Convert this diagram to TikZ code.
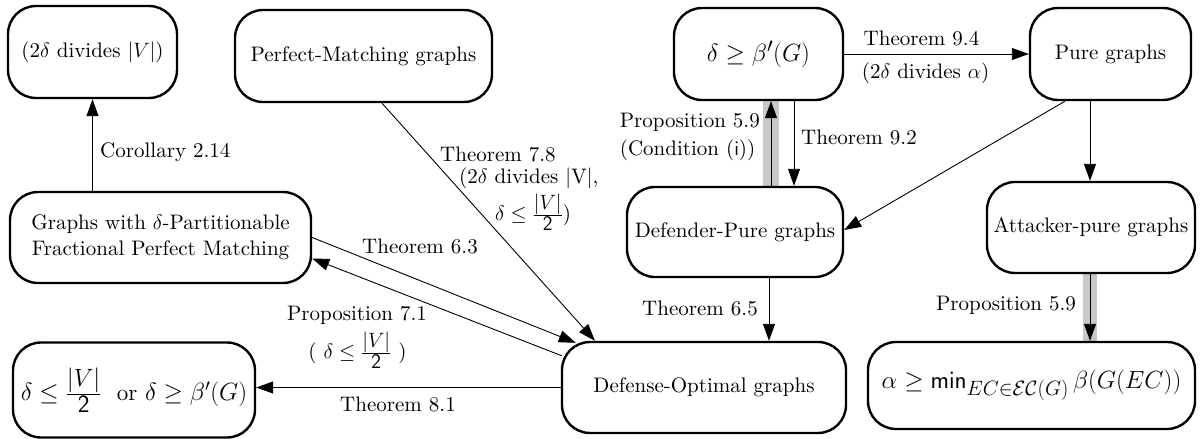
\documentclass[tikz,border=0pt]{standalone}
\usepackage{amsmath}
\usepackage[no-math]{fontspec}
\setmainfont{lmroman10-regular}[Extension=.otf, ItalicFont=lmroman10-italic, BoldFont=lmroman10-bold]
\usetikzlibrary{arrows.meta,backgrounds,calc}
\definecolor{band}{RGB}{200,200,200}
\newcommand{\hfr}[2]{\frac{\textstyle #1}{\textstyle #2}}
\begin{document}
\begin{tikzpicture}[x=1pt,y=-1pt,
  font=\fontsize{21pt}{25.5pt}\selectfont,
  box/.style={draw, line width=2.4pt, rounded corners=28pt, inner sep=0pt, align=center},
  arr/.style={-{Triangle[length=17pt,width=12pt]}, line width=0.9pt},
  lbl/.style={inner sep=0pt},
  bandline/.style={line width=16pt, draw=band},
  mathlbl/.style={inner sep=0pt, font=\fontsize{21pt}{25pt}\selectfont}]
\useasboundingbox (0,0) rectangle (1202,439);

% boxes
\node[box, minimum width=169pt, minimum height=92pt] (A) at (92.5,52) {(2$\delta$ divides $|V|$)};
\node[box, minimum width=257pt, minimum height=92pt] (B) at (363.5,56) {Perfect-Matching graphs};
\node[box, minimum width=169pt, minimum height=92pt, font=\fontsize{30pt}{34pt}\selectfont] (C) at (758.5,54) {$\delta \geq \beta'(G)$};
\node[box, minimum width=161pt, minimum height=92pt] (D) at (1110.5,54) {Pure graphs};
\node[box, minimum width=301pt, minimum height=91pt] (E) at (160.5,237.5) {Graphs with $\delta$-Partitionable\\Fractional Perfect Matching};
\node[box, minimum width=216pt, minimum height=90pt] (F) at (735,232) {Defender-Pure graphs};
\node[box, minimum width=208pt, minimum height=91pt] (G) at (1091,227.5) {Attacker-pure graphs};
\node[box, minimum width=242pt, minimum height=95pt, font=\fontsize{23pt}{27pt}\selectfont] (H) at (134,390) {$\delta \le \hfr{|V|}{\mathsf{2}}$\ \ or $\delta \ge \beta'(G)$};
\node[box, minimum width=284pt, minimum height=91pt] (I) at (704,387.5) {Defense-Optimal graphs};
\node[box, minimum width=327pt, minimum height=87pt, font=\fontsize{28pt}{32pt}\selectfont] (J) at (1031.5,385.5) {$\alpha \ge \mathsf{min}_{EC\in\mathcal{EC}(G)}\,\beta(G(EC))$};

% gray bands
\begin{pgfonlayer}{background}
  \draw[bandline] ([xshift=12pt]C.south) -- ([xshift=35.5pt]F.north);
  \draw[bandline, line width=14pt] ([xshift=-1pt]G.south) -- ([xshift=58.5pt]J.north);
\end{pgfonlayer}

% connectors
\draw[arr] (E.north -| A.south) -- (A.south);
\node[lbl, anchor=west] (lcor) at (100,152) {Corollary 2.14};

\draw[arr] ([xshift=18.5pt]B.south) -- ([xshift=-109pt]I.north);
\node[lbl, anchor=west] (l78a) at (440,154) {Theorem 7.8};
\node[lbl, anchor=west] (l78b) at (459,178) {(2$\delta$ divides $|$V$|$,};
\node[mathlbl, anchor=west] (l78c) at (495,212) {$\delta \le \hfr{|V|}{\mathsf{2}}$)};

\draw[arr] (E.east) -- ([shift={(15pt,-2pt)}]I.north west);
\node[lbl] (l63) at (420,246) {Theorem 6.3};

\draw[arr] ([shift={(1pt,-15pt)}]I.north west) -- ([yshift=-21pt]E.east);
\node[lbl] (l71a) at (357,315) {Proposition 7.1};
\node[mathlbl] (l71b) at (357.5,350) {(\ $\delta \le \hfr{|V|}{\mathsf{2}}$\ )};

\draw[arr] (I.west) -- (I.west -| H.east);
\node[lbl] (l81) at (398,404) {Theorem 8.1};

\draw[arr] ([xshift=36pt]F.north) -- ([xshift=12.5pt]C.south);
\node[lbl, anchor=east, align=left] (l59a) at (760,137) {Proposition 5.9\\[2pt](Condition ({\sffamily i}))};
\draw[arr] ([xshift=35.5pt]C.south) -- ([xshift=59pt]F.north);
\node[lbl, anchor=west] (l92) at (801,137) {Theorem 9.2};

\draw[arr] (C.east) -- (D.west);
\node[lbl] (l94a) at (921.5,38) {Theorem 9.4};
\node[lbl] (l94b) at (925.5,73) {(2$\delta$ divides $\alpha$)};

\draw[arr] ([xshift=-45.5pt]D.south) -- ([yshift=2pt]F.east);
\draw[arr] ([xshift=-20.5pt]D.south) -- ([xshift=-1pt]G.north);

\draw[arr] ([xshift=34pt]F.south) -- ([xshift=65pt]I.north);
\node[lbl] (l65) at (700,308) {Theorem 6.5};

\draw[arr] ([xshift=-1pt]G.south) -- ([xshift=58.5pt]J.north);
\node[lbl] (l59b) at (1006,305) {Proposition 5.9};
\end{tikzpicture}
\end{document}
